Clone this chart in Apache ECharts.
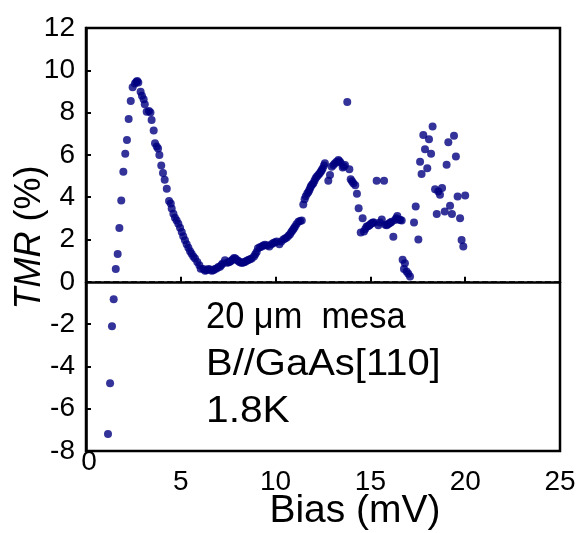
<!DOCTYPE html>
<html>
<head>
    <meta charset="utf-8">
    <title>TMR vs Bias</title>
    <script src="https://cdn.jsdelivr.net/npm/echarts@6/dist/echarts.min.js"></script>
    <style>
        html, body { margin: 0; padding: 0; background: #fff; }
        #main { width: 585px; height: 533px; }
    </style>
</head>
<body>
<div id="main"></div>
<script type="text/javascript">

    // bias (mV)
    var biasValues = [
        1.16, 1.27, 1.37, 1.46, 1.57, 1.67, 1.76, 1.86, 1.97, 2.07,
        2.16, 2.25, 2.36, 2.46, 2.58, 2.65, 2.70, 2.76, 2.88, 2.95,
        3.04, 3.10, 3.20, 3.32, 3.40, 3.46, 3.57, 3.64, 3.73, 3.80,
        3.87, 3.97, 4.06, 4.15, 4.26, 4.38, 4.47, 4.52, 4.61, 4.69,
        4.78, 4.87, 4.96, 5.05, 5.13, 5.22, 5.31, 5.40, 5.49, 5.57,
        5.66, 5.75, 5.87, 5.98, 6.05, 6.19, 6.28, 6.36, 6.45, 6.54,
        6.63, 6.72, 6.80, 6.89, 6.98, 7.07, 7.14, 7.21, 7.33, 7.45,
        7.52, 7.59, 7.66, 7.74, 7.81, 7.88, 7.98, 8.05, 8.12, 8.19,
        8.26, 8.33, 8.40, 8.48, 8.56, 8.65, 8.74, 8.86, 8.93, 9.00,
        9.07, 9.17, 9.27, 9.35, 9.44, 9.55, 9.67, 9.78, 9.88, 9.97,
        10.06, 10.20, 10.30, 10.41, 10.50, 10.59, 10.68, 10.76, 10.83, 10.90,
        10.96, 11.02, 11.10, 11.20, 11.29, 11.38, 11.46, 11.53, 11.59, 11.67,
        11.73, 11.78, 11.83, 11.87, 11.93, 11.99, 12.05, 12.11, 12.18, 12.25,
        12.32, 12.38, 12.43, 12.48, 12.55, 12.60, 12.78, 12.87, 12.96, 13.05,
        13.13, 13.22, 13.31, 13.37, 13.43, 13.54, 13.60, 13.66, 13.78, 13.89,
        13.96, 14.03, 14.10, 14.20, 14.29, 14.38, 14.49, 14.59, 14.66, 14.73,
        14.80, 14.87, 14.94, 15.00, 15.07, 15.13, 15.19, 15.33, 15.42, 15.50,
        15.60, 15.72, 15.79, 15.86, 15.93, 16.00, 16.06, 16.12, 16.21, 16.30,
        16.36, 16.42, 16.51, 16.58, 16.65, 16.70, 16.77, 16.82, 16.91, 17.00,
        17.09, 17.30, 17.39, 17.53, 17.62, 17.70, 17.79, 17.88, 18.00, 18.09,
        18.20, 18.28, 18.41, 18.50, 18.58, 18.67, 18.78, 18.92, 19.02, 19.11,
        19.20, 19.30, 19.41, 19.51, 19.60, 19.73, 19.81, 19.90, 20.00
    ];

    // TMR (%)
    var tmrValues = [
        -7.20, -4.80, -2.10, -0.83, 0.60, 1.31, 2.54, 3.84, 5.20, 6.05,
        6.70, 7.70, 8.55, 9.20, 9.38, 9.45, 9.50, 9.42, 8.98, 8.80,
        8.63, 8.40, 8.04, 8.07, 8.00, 7.65, 7.15, 6.55, 6.40, 6.30,
        6.00, 5.50, 5.14, 4.83, 4.40, 3.82, 3.70, 3.46, 3.22, 3.03,
        2.90, 2.75, 2.56, 2.35, 2.15, 1.96, 1.77, 1.61, 1.45, 1.33,
        1.20, 1.10, 0.94, 0.78, 0.62, 0.60, 0.52, 0.55, 0.60, 0.58,
        0.52, 0.55, 0.60, 0.63, 0.70, 0.71, 0.80, 0.87, 1.02, 0.90,
        0.92, 0.95, 1.00, 1.06, 1.12, 1.10, 1.02, 0.97, 0.93, 0.90,
        0.90, 0.92, 0.95, 1.00, 1.03, 1.07, 1.10, 1.20, 1.30, 1.41,
        1.59, 1.63, 1.67, 1.72, 1.75, 1.72, 1.67, 1.77, 1.83, 1.87,
        1.90, 1.77, 1.90, 2.00, 2.05, 2.10, 2.18, 2.25, 2.35, 2.44,
        2.52, 2.60, 2.72, 2.84, 2.88, 2.90, 3.66, 3.90, 4.05, 4.18,
        4.25, 4.34, 4.45, 4.53, 4.60, 4.66, 4.78, 4.90, 4.98, 5.05,
        5.12, 5.20, 5.28, 5.36, 5.50, 5.60, 4.78, 5.05, 5.44, 5.52,
        5.60, 5.68, 5.76, 5.70, 5.63, 5.40, 5.45, 5.52, 8.50, 5.32,
        4.85, 4.75, 4.66, 4.57, 4.16, 3.48, 2.33, 3.00, 2.38, 2.50,
        2.61, 2.63, 2.66, 2.72, 2.77, 2.80, 2.80, 4.78, 2.67, 2.80,
        2.94, 4.78, 2.70, 2.67, 2.72, 2.77, 2.80, 2.84, 2.13, 2.92,
        3.00, 3.11, 2.95, 2.92, 2.90, 1.04, 0.60, 0.88, 0.49, 0.38,
        0.25, 2.80, 3.56, 2.00, 5.68, 5.10, 6.94, 6.27, 5.37, 6.74,
        6.05, 7.34, 4.38, 3.21, 4.27, 4.11, 4.43, 3.32, 5.53, 6.60,
        3.59, 3.20, 6.91, 5.92, 4.03, 3.01, 1.98, 1.67, 4.08
    ];

    var annotationLines = ['20 \u03bcm  mesa', 'B//GaAs[110]', '1.8K'];

    var points = biasValues.map(function (b, i) { return [b, tmrValues[i]]; });

    var myChart = echarts.init(document.getElementById('main'));

    var font = '"Liberation Sans", Arial, sans-serif';
    var noteScale = [0.93, 1.08, 1.1];

    myChart.setOption({
        animation: false,
        backgroundColor: '#fff',
        grid: {
            left: 86, right: 25, top: 28, bottom: 82,
            outerBoundsMode: 'none',
            containLabel: false,
            show: true, borderColor: '#000', borderWidth: 2.5
        },
        xAxis: {
            type: 'value',
            min: 0, max: 25, interval: 5,
            name: 'Bias (mV)',
            nameLocation: 'middle',
            nameGap: 41,
            nameMoveOverlap: false,
            nameTextStyle: { fontFamily: font, fontSize: 39, color: '#000', padding: [0, 0, 0, 64] },
            axisLine: { lineStyle: { color: '#000', width: 2.5 } },
            axisTick: { inside: true, length: 5, lineStyle: { color: '#000', width: 2 } },
            axisLabel: {
                fontFamily: font, fontSize: 28, color: '#000', margin: 17,
                formatter: function (v) { return v === 0 ? '{z|0}' : String(v); },
                rich: { z: { fontFamily: font, fontSize: 28, color: '#000', padding: [-20, 0, 0, 6] } }
            },
            splitLine: { show: false }
        },
        yAxis: {
            type: 'value',
            min: -8, max: 12, interval: 2,
            name: '{i|TMR} (%)',
            nameLocation: 'middle',
            nameGap: 38,
            nameMoveOverlap: false,
            nameTextStyle: {
                fontFamily: font, fontSize: 36, color: '#000', padding: [0, 0, 0, 4],
                rich: { i: { fontFamily: font, fontSize: 36, fontStyle: 'italic', color: '#000' } }
            },
            axisLine: { lineStyle: { color: '#000', width: 2.5 } },
            axisTick: { inside: true, length: 5, lineStyle: { color: '#000', width: 2 } },
            axisLabel: { fontFamily: font, fontSize: 28, color: '#000', margin: 11 },
            splitLine: { show: false }
        },
        graphic: annotationLines.map(function (t, i) {
            return {
                type: 'text',
                left: 206,
                top: 299 + i * 47,
                scaleX: noteScale[i],
                style: { text: t, font: '37px "Liberation Sans", Arial, sans-serif', fill: '#000' }
            };
        }),
        series: [{
            type: 'scatter',
            data: points,
            symbol: 'circle',
            symbolSize: 8,
            itemStyle: { color: '#000080' },
            markLine: {
                silent: true,
                symbol: 'none',
                label: { show: false },
                lineStyle: { color: '#000', width: 1.5, type: 'dashed' },
                data: [{ yAxis: 0 }]
            }
        }]
    });

</script>
</body>
</html>
